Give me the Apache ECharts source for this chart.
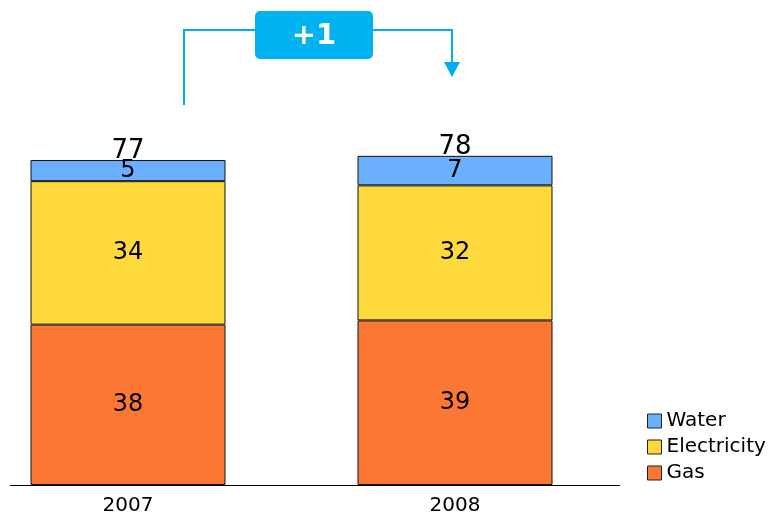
<!DOCTYPE html>
<html>
<head>
<meta charset="utf-8">
<script src="https://cdn.jsdelivr.net/npm/echarts@6/dist/echarts.min.js"></script>
<style>
  html, body { margin: 0; padding: 0; background: #fff; }
  #chart { width: 770px; height: 514px; }
</style>
</head>
<body>
<div id="chart"></div>
<script>
const years = ['2007', '2008'];
const gas = [38, 39];
const electricity = [34, 32];
const water = [5, 7];
const totals = [77, 78];
const changeLabel = '+1';

const font = 'DejaVu Sans';
const chart = echarts.init(document.getElementById('chart'));

const segLabel = {
    show: true,
    position: 'inside',
    color: '#000',
    fontFamily: font,
    fontSize: 24
};

const option = {
    animation: false,
    // category bands are 327px wide, so the grid starts off-canvas on the left
    grid: {left: -35.5, width: 654, top: 63, bottom: 29, outerBoundsMode: 'none'},
    legend: {
        orient: 'vertical',
        left: 642,
        top: 406,
        icon: 'rect',
        itemWidth: 14,
        itemHeight: 14,
        itemGap: 6,
        data: ['Water', 'Electricity', 'Gas'],
        itemStyle: {borderColor: '#222', borderWidth: 1},
        textStyle: {fontFamily: font, fontSize: 20, color: '#000'}
    },
    xAxis: {
        type: 'category',
        data: years,
        axisLine: {show: false},
        axisTick: {show: false},
        axisLabel: {
            color: '#000',
            fontFamily: font,
            fontSize: 20,
            margin: 11
        }
    },
    yAxis: {
        type: 'value',
        min: 0,
        max: 100,
        show: false
    },
    series: [
        {
            name: 'Gas',
            type: 'bar',
            stack: 'total',
            barWidth: 195,
            data: gas,
            itemStyle: {color: '#FA7834', borderColor: '#111', borderWidth: 1},
            label: segLabel
        },
        {
            name: 'Electricity',
            type: 'bar',
            stack: 'total',
            barWidth: 195,
            data: electricity,
            itemStyle: {color: '#FDD93B', borderColor: '#111', borderWidth: 1},
            label: segLabel
        },
        {
            name: 'Water',
            type: 'bar',
            stack: 'total',
            barWidth: 195,
            data: water,
            itemStyle: {color: '#6AB0FF', borderColor: '#111', borderWidth: 1},
            label: segLabel
        },
        {
            // totals above the stacks
            name: 'Total',
            type: 'scatter',
            symbolSize: 0,
            data: totals,
            itemStyle: {opacity: 1},
            label: {
                show: true,
                position: 'top',
                distance: -4,
                formatter: p => totals[p.dataIndex],
                color: '#000',
                fontFamily: font,
                fontSize: 26
            }
        }
    ],
    graphic: [
        {
            // baseline
            type: 'line',
            shape: {x1: 10, y1: 485.5, x2: 620, y2: 485.5},
            style: {stroke: '#000', lineWidth: 1}
        },
        {
            type: 'polyline',
            shape: {points: [[184, 105], [184, 30], [452, 30], [452, 64]]},
            style: {stroke: '#00AEEF', lineWidth: 2, fill: null}
        },
        {
            type: 'polygon',
            shape: {points: [[444, 62], [460, 62], [452, 77]]},
            style: {fill: '#00AEEF'}
        },
        {
            type: 'rect',
            shape: {x: 255, y: 11, width: 118, height: 48, r: 5},
            style: {fill: '#00B2EF'}
        },
        {
            type: 'text',
            x: 314,
            y: 36,
            style: {
                text: changeLabel,
                fill: '#fff',
                font: 'bold 29px "DejaVu Sans"',
                align: 'center',
                verticalAlign: 'middle'
            }
        }
    ]
};

chart.setOption(option);
</script>
</body>
</html>
